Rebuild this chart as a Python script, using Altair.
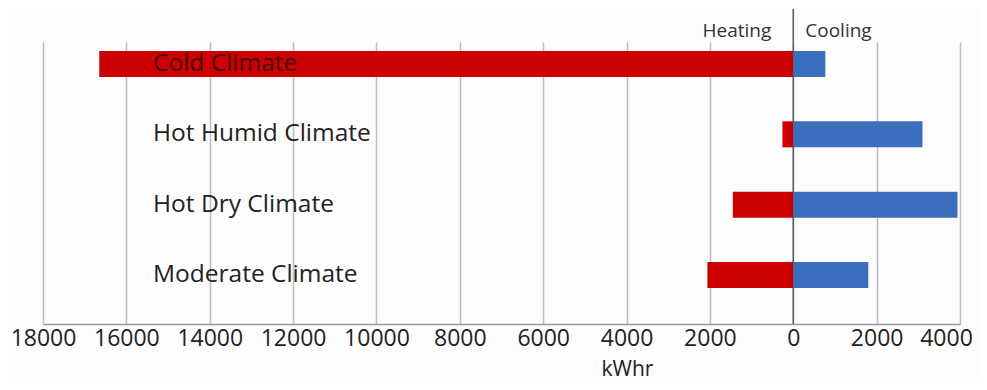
import altair as alt
import pandas as pd

climates = ["Cold Climate", "Hot Humid Climate", "Hot Dry Climate", "Moderate Climate"]
heating = [16650, 260, 1450, 2060]
cooling = [770, 3100, 3940, 1800]
tick_values = [-18000, -16000, -14000, -12000, -10000, -8000, -6000, -4000, -2000, 0, 2000, 4000]
series_names = ["Heating", "Cooling"]
series_colors = ["#cc0000", "#3c6ebe"]

rows = []
for c, h, k in zip(climates, heating, cooling):
    rows.append({"climate": c, "type": "Heating", "value": -h})
    rows.append({"climate": c, "type": "Cooling", "value": k})
df = pd.DataFrame(rows)
labels_df = pd.DataFrame({"climate": climates})
head_df = pd.DataFrame({"name": series_names, "pos": [0, 0]})

FONT = "Open Sans"

x_scale = alt.Scale(domain=[-18000, 4000], nice=False, zero=False)
y_scale = alt.Scale(domain=climates, paddingInner=0.63, paddingOuter=0.32, align=0.2)

x_enc = alt.X(
    "value:Q",
    scale=x_scale,
    stack=None,
    axis=alt.Axis(
        values=tick_values,
        labelExpr="format(abs(datum.value), 'd')",
        grid=True,
        gridColor="#bcbcbc",
        gridWidth=1.5,
        domainColor="#9a9a9a",
        domainWidth=1.5,
        ticks=False,
        labelFont=FONT,
        labelFontSize=23,
        labelColor="#222222",
        labelPadding=3,
        labelOverlap=False,
        labelFlush=False,
        labelOffset=alt.condition("datum.value >= 4000", alt.value(-14), alt.value(0)),
        title="kWhr",
        titleFont=FONT,
        titleFontSize=21,
        titleFontWeight="normal",
        titleColor="#222222",
        titleX=584,
        titleY=51,
        titleAlign="center",
        titleBaseline="alphabetic",
    ),
)

zero_rule = alt.Chart(head_df.iloc[[0]]).mark_rule(color="#5a5a5a", strokeWidth=1.5).encode(
    x=alt.X("pos:Q", scale=x_scale),
    y=alt.value(-33),
    y2=alt.value(282),
)

bars = alt.Chart(df).mark_bar().encode(
    x=x_enc,
    y=alt.Y("climate:N", scale=y_scale, axis=None, sort=climates),
    color=alt.Color("type:N", scale=alt.Scale(domain=series_names, range=series_colors), legend=None),
)

cat_text = alt.Chart(labels_df).mark_text(
    align="left", baseline="middle", font=FONT, fontSize=24.5
).encode(
    x=alt.value(110),
    y=alt.Y("climate:N", scale=y_scale, axis=None, sort=climates),
    text="climate:N",
    color=alt.condition(alt.datum.climate == "Cold Climate", alt.value("#4a0a0a"), alt.value("#222222")),
)

heat_text = alt.Chart(head_df.iloc[[0]]).mark_text(
    align="right", baseline="alphabetic", font=FONT, fontSize=19, dx=-22, color="#333333"
).encode(
    x=alt.X("pos:Q", scale=x_scale),
    y=alt.value(-5),
    text="name:N",
)

cool_text = alt.Chart(head_df.iloc[[1]]).mark_text(
    align="left", baseline="alphabetic", font=FONT, fontSize=19, dx=12, color="#333333"
).encode(
    x=alt.X("pos:Q", scale=x_scale),
    y=alt.value(-5),
    text="name:N",
)

chart = alt.layer(zero_rule, bars, cat_text, heat_text, cool_text).properties(
    width=917,
    height=282,
    autosize=alt.AutoSizeParams(type="none"),
    padding={"left": 35, "top": 34, "right": 19, "bottom": 58},
    background="#fdfdfd",
).configure_view(stroke=None)

chart.save("out.html", embed_options={"renderer": "svg", "actions": False})
